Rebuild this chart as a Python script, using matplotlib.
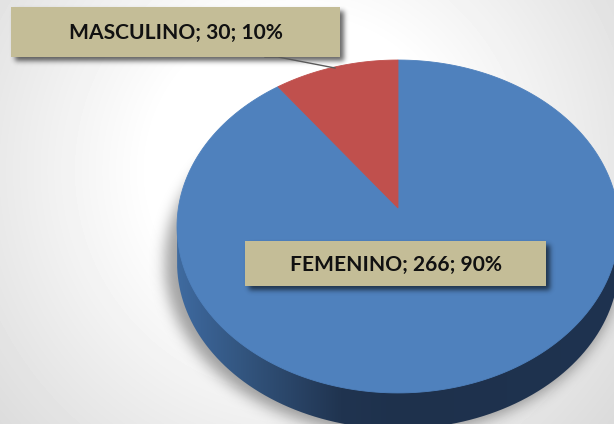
import numpy as np
import matplotlib
matplotlib.use("Agg")
import matplotlib.pyplot as plt
from matplotlib.transforms import Transform, Affine2D
from matplotlib.path import Path
from matplotlib.patches import PathPatch, Rectangle

categories = ["FEMENINO", "MASCULINO"]
values = [266, 30]
percents = [90, 10]
colors = ["#4f81bd", "#c0504d"]

W, H = 614, 424
A, B, K = 219.6, 164.4, 0.111   # disc -> pixel projection
CX, CY = 398, 208
DEPTH = 36


def project(p):
    p = np.asarray(p, float)
    d = 1 + K * p[:, 1]
    return np.column_stack([CX + A * p[:, 0] / d, CY - B * p[:, 1] / d])


class Tilt(Transform):
    input_dims = output_dims = 2
    is_affine = False
    has_inverse = False

    def transform_non_affine(self, values):
        return project(values)

    def transform_path_non_affine(self, path):
        big = path.transformed(Affine2D().scale(2000))
        poly = big.to_polygons(closed_only=True)[0] / 2000
        return Path(project(poly), closed=True)


def blur(a, s):
    fy = np.fft.fftfreq(a.shape[0])[:, None]
    fx = np.fft.rfftfreq(a.shape[1])[None, :]
    g = np.exp(-2 * (np.pi * s) ** 2 * (fx ** 2 + fy ** 2))
    return np.fft.irfft2(np.fft.rfft2(a) * g, s=a.shape)


fig = plt.figure(figsize=(W / 100, H / 100), dpi=100)
ax = fig.add_axes([0, 0, 1, 1])

# background vignette
yy, xx = np.mgrid[0:H, 0:W]
dist = np.hypot(xx - 300, yy - 170)
bg = np.clip(255 - 0.145 * np.clip(dist - 150, 0, None), 0, 255) / 255
ax.imshow(bg, cmap="gray", vmin=0, vmax=1, extent=(0, W, H, 0), zorder=0)

# soft shadow under the pie
PAD = 60
yp, xp = np.mgrid[-PAD:H + PAD, -PAD:W + PAD]
mask = (((xp - 392) / 228.0) ** 2 + ((yp - 262) / 172.0) ** 2 < 1).astype(float)
sh = np.clip(blur(mask, 7), 0, 1)[PAD:-PAD, PAD:-PAD] * 0.36
rgba = np.zeros((H, W, 4))
rgba[..., 3] = sh
ax.imshow(rgba, extent=(0, W, H, 0), zorder=1)

# side wall with horizontal shading
t = np.linspace(np.pi + np.arcsin(K), 2 * np.pi - np.arcsin(K), 300)
rim = project(np.column_stack([np.cos(t), np.sin(t)]))
low = rim + [0, DEPTH]
wall_path = Path(np.vstack([rim[:1], low, rim[-1:], rim[:1]]))
xs = np.array([177, 200, 240, 290, 340, 400, 614], float)
rs = np.array([0x3f, 0x3a, 0x33, 0x2a, 0x20, 0x1e, 0x1e]) / 255
gs = np.array([0x6b, 0x62, 0x56, 0x45, 0x34, 0x31, 0x33]) / 255
bs = np.array([0xa0, 0x94, 0x80, 0x68, 0x50, 0x4c, 0x50]) / 255
col = np.arange(W)
grad = np.dstack([np.interp(col, xs, c)[None, :] for c in (rs, gs, bs)])
wall = ax.imshow(grad, extent=(0, W, H, 0), aspect="auto", zorder=2)
wall.set_clip_path(PathPatch(wall_path, transform=ax.transData))

# pie top
wedges, _ = ax.pie(values, colors=colors, startangle=90, counterclock=False)
tilt = Tilt() + ax.transData
for w in wedges:
    w.set_transform(tilt)
    w.set_zorder(3)
    w.set_edgecolor(w.get_facecolor())
    w.set_linewidth(0.6)

ax.set_aspect("auto")
ax.set_xlim(0, W)
ax.set_ylim(H, 0)
ax.axis("off")

# label boxes
boxes = {"MASCULINO": (11, 7, 329, 50), "FEMENINO": (245, 241, 301, 45)}
s2 = np.zeros((H + 2 * PAD, W + 2 * PAD))
for (x, y, w, h) in boxes.values():
    s2[y + 4 + PAD:y + 4 + h + PAD, x + 4 + PAD:x + 4 + w + PAD] = 1
s2 = np.clip(blur(s2, 2.5), 0, 1)[PAD:-PAD, PAD:-PAD] * 0.6
rgba2 = np.zeros((H, W, 4))
rgba2[..., 3] = s2
ax.imshow(rgba2, extent=(0, W, H, 0), zorder=4)
ax.set_aspect("auto")
ax.set_xlim(0, W)
ax.set_ylim(H, 0)

ax.plot([265, 278, 335], [57, 57, 68], color="#5a5a5a", lw=1.0, zorder=5)

for cat, val, pct in zip(categories, values, percents):
    x, y, w, h = boxes[cat]
    ax.add_patch(Rectangle((x, y), w, h, fc="#c4bd97", ec="none", zorder=6))
    ax.text(x + w / 2, y + h / 2 + 1, f"{cat}; {val}; {pct}%", ha="center", va="center",
            family="Lato", weight="bold", fontsize=15.1, color="#111111", zorder=7)

fig.savefig("out.png", dpi=100)
